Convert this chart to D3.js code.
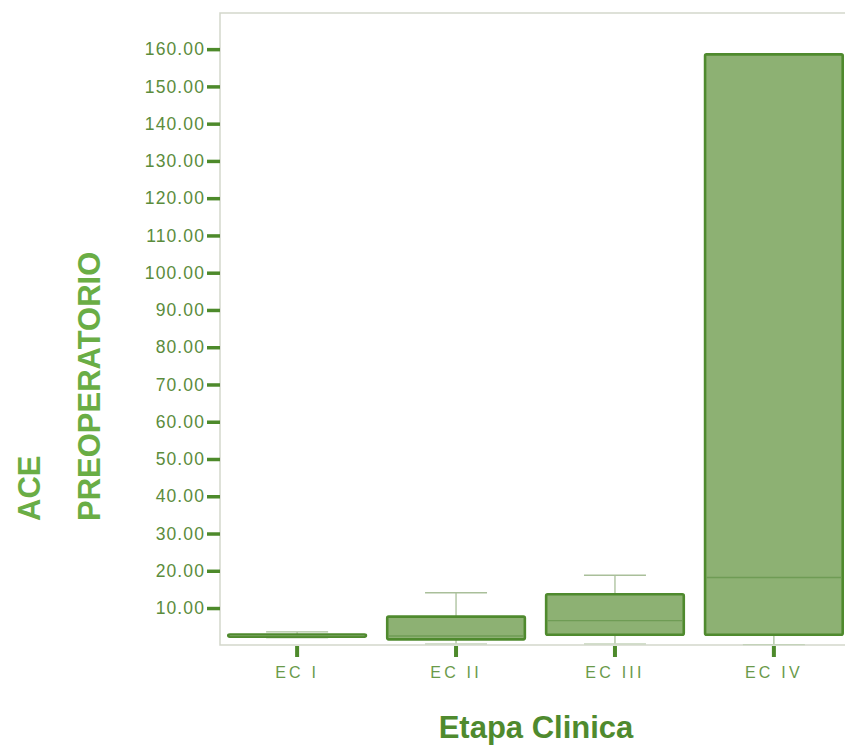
<!DOCTYPE html>
<html>
<head>
<meta charset="utf-8">
<script src="https://cdn.jsdelivr.net/npm/d3@7"></script>
<style>
  html, body { margin: 0; padding: 0; background: #ffffff; }
  svg { display: block; font-family: "Liberation Sans", Arial, sans-serif; }
</style>
</head>
<body>
<svg id="chart" width="845" height="746"></svg>
<script>
// Clinical stage categories
const stages = ["EC I", "EC II", "EC III", "EC IV"];
// Box-plot summaries of pre-operative CEA per stage
const whiskerLow  = [2.0, 0.4, 0.4, 0.2];
const quartile1   = [2.3, 1.6, 2.85, 2.85];
const medians     = [2.6, 2.5, 6.6, 18.2];
const quartile3   = [2.9, 7.7, 13.7, 158.6];
const whiskerHigh = [3.6, 14.1, 18.8, 158.6];
// Value axis ticks
const yTicks = [10, 20, 30, 40, 50, 60, 70, 80, 90, 100, 110, 120, 130, 140, 150, 160];

const svg = d3.select("#chart");

const plot = { left: 220, right: 845, top: 13, bottom: 645 };

const y = d3.scaleLinear().domain([0, 169.7]).range([645.3, 13]);
const x = d3.scaleBand().domain(stages).range([207, 864]).padding(0.134);

const boxes = stages.map((s, i) => ({
  stage: s, lo: whiskerLow[i], q1: quartile1[i], med: medians[i],
  q3: quartile3[i], hi: whiskerHigh[i]
}));

// Frame lines (left, top, bottom)
const frame = svg.append("g").attr("stroke", "#d3d7cb").attr("stroke-width", 1.5).attr("fill", "none");
frame.append("path")
  .attr("d", `M${plot.right},${plot.top}H${plot.left}V${plot.bottom}H${plot.right}`);

// Y axis
const yAxis = d3.axisLeft(y).tickValues(yTicks)
  .tickFormat(d3.format(".2f")).tickSize(13).tickPadding(2);
const gy = svg.append("g").attr("transform", `translate(${plot.left},0)`).call(yAxis);
gy.select(".domain").remove();
gy.selectAll(".tick line").attr("stroke", "#4d8a2b").attr("stroke-width", 3.5);
gy.selectAll(".tick text")
  .attr("fill", "#5b8c3c").attr("font-size", 17.5).attr("letter-spacing", 1.1);

// X axis
const xAxis = d3.axisBottom(x).tickSize(11).tickPadding(10);
const gx = svg.append("g").attr("transform", `translate(0,${plot.bottom + 1})`).call(xAxis);
gx.select(".domain").remove();
gx.selectAll(".tick line").attr("stroke", "#4d8a2b").attr("stroke-width", 4);
gx.selectAll(".tick text")
  .attr("fill", "#6a9a4a").attr("font-size", 16).attr("letter-spacing", 3.2);

// Boxes
const capHalf = 31;
const g = svg.append("g");
const bx = g.selectAll("g.box").data(boxes).join("g").attr("class", "box")
  .attr("transform", d => `translate(${x(d.stage) + x.bandwidth() / 2},0)`);

// Whiskers
bx.append("line")
  .attr("x1", 0).attr("x2", 0)
  .attr("y1", d => y(d.hi)).attr("y2", d => y(d.q3))
  .attr("stroke", "#a9bf9a").attr("stroke-width", 1.3);
bx.append("line")
  .attr("x1", 0).attr("x2", 0)
  .attr("y1", d => y(d.q1)).attr("y2", d => y(d.lo))
  .attr("stroke", "#a9bf9a").attr("stroke-width", 1.3);
bx.filter(d => d.hi > d.q3).append("line")
  .attr("x1", -capHalf).attr("x2", capHalf)
  .attr("y1", d => y(d.hi)).attr("y2", d => y(d.hi))
  .attr("stroke", "#a9bf9a").attr("stroke-width", 1.3);
bx.append("line")
  .attr("x1", -capHalf).attr("x2", capHalf)
  .attr("y1", d => y(d.lo)).attr("y2", d => y(d.lo))
  .attr("stroke", "#c4d3ba").attr("stroke-width", 1.3);

// Box body
const bw = x.bandwidth();
bx.append("rect")
  .attr("x", -bw / 2).attr("width", bw)
  .attr("y", d => y(d.q3)).attr("height", d => y(d.q1) - y(d.q3))
  .attr("rx", 1.5)
  .attr("fill", "#8db173").attr("stroke", "#4f8a2e").attr("stroke-width", 2.6);

// Median
bx.append("line")
  .attr("x1", -bw / 2 + 1.3).attr("x2", bw / 2 - 1.3)
  .attr("y1", d => y(d.med)).attr("y2", d => y(d.med))
  .attr("stroke", "#6f9c55").attr("stroke-width", 1.3);

// Axis titles
svg.append("text")
  .attr("transform", "translate(40,521) rotate(-90)")
  .attr("font-size", 31).attr("font-weight", "bold").attr("fill", "#6aad45")
  .text("ACE");
svg.append("text")
  .attr("transform", "translate(100,521) rotate(-90)")
  .attr("font-size", 31).attr("font-weight", "bold").attr("fill", "#6aad45")
  .text("PREOPERATORIO");
svg.append("text")
  .attr("x", 536).attr("y", 738).attr("text-anchor", "middle")
  .attr("font-size", 31).attr("font-weight", "bold").attr("fill", "#4f8a2e")
  .text("Etapa Clinica");
</script>
</body>
</html>
